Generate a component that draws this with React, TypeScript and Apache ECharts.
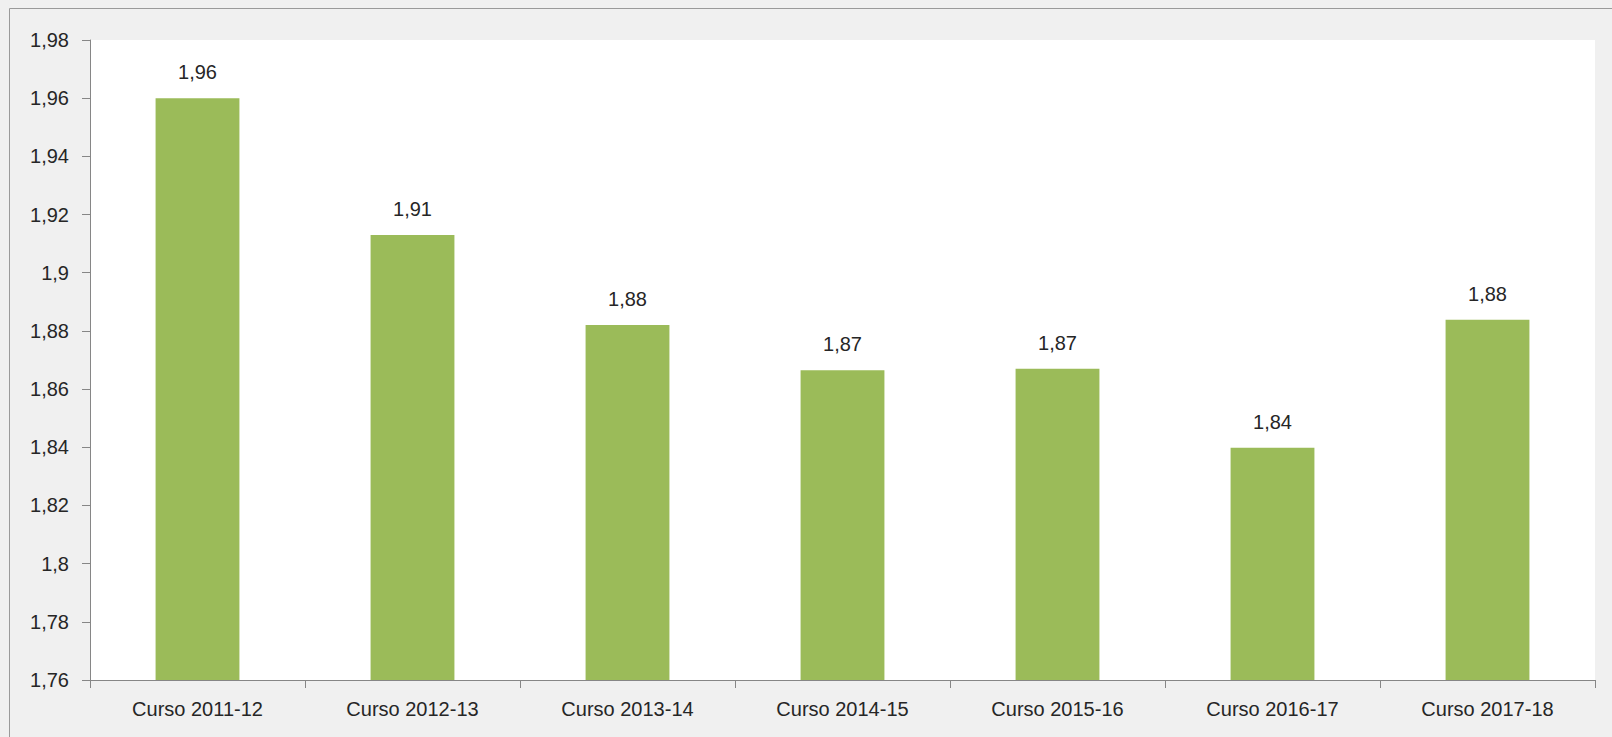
import React, { useEffect, useRef } from "react";
import * as echarts from "echarts";

const categories = [
  "Curso 2011-12",
  "Curso 2012-13",
  "Curso 2013-14",
  "Curso 2014-15",
  "Curso 2015-16",
  "Curso 2016-17",
  "Curso 2017-18",
];
const values = [1.96, 1.913, 1.882, 1.8665, 1.867, 1.8398, 1.8838];
const yMin = 1.76;
const yMax = 1.98;
const yStep = 0.02;

const FONT = "Liberation Sans";
const TEXT = "#262626";
const AXIS = "#868686";

function fmtTick(v: number): string {
  return String(parseFloat(v.toFixed(2))).replace(".", ",");
}
function fmtLabel(v: number): string {
  return v.toFixed(2).replace(".", ",");
}

export default function App() {
  const ref = useRef<HTMLDivElement>(null);
  useEffect(() => {
    document.body.style.margin = "0";
    if (!ref.current) return;
    const chart = echarts.init(ref.current, null, { renderer: "svg" });
    chart.setOption({
      animation: false,
      backgroundColor: "#f0f0f0",
      graphic: [
        {
          type: "rect",
          shape: { x: 9.5, y: 8.5, width: 1700, height: 800 },
          style: { fill: "none", stroke: "#9a9a9a", lineWidth: 1 },
          silent: true,
          z: -1,
        },
      ],
      grid: {
        left: 90,
        top: 40,
        right: 17,
        bottom: 57,
        show: true,
        backgroundColor: "#ffffff",
        borderWidth: 0,
      },
      xAxis: {
        type: "category",
        data: categories,
        axisLine: { lineStyle: { color: AXIS, width: 1 } },
        axisTick: { show: true, length: 8, lineStyle: { color: AXIS } },
        axisLabel: {
          color: TEXT,
          fontFamily: FONT,
          fontSize: 20,
          margin: 19,
        },
      },
      yAxis: {
        type: "value",
        min: yMin,
        max: yMax,
        interval: yStep,
        splitLine: { show: false },
        axisLine: { show: true, lineStyle: { color: AXIS, width: 1 } },
        axisTick: { show: true, length: 8, lineStyle: { color: AXIS } },
        axisLabel: {
          color: TEXT,
          fontFamily: FONT,
          fontSize: 20,
          margin: 21,
          formatter: (v: number) => fmtTick(v),
        },
      },
      series: [
        {
          type: "bar",
          data: values,
          barCategoryGap: "61%",
          itemStyle: { color: "#9BBB59" },
          label: {
            show: true,
            position: "top",
            distance: 16,
            color: TEXT,
            fontFamily: FONT,
            fontSize: 20,
            formatter: (p: any) => fmtLabel(p.value),
          },
        },
      ],
    });
    return () => chart.dispose();
  }, []);
  return (
    <div
      ref={ref}
      style={{ position: "fixed", left: 0, top: 0, width: 1612, height: 737 }}
    />
  );
}
